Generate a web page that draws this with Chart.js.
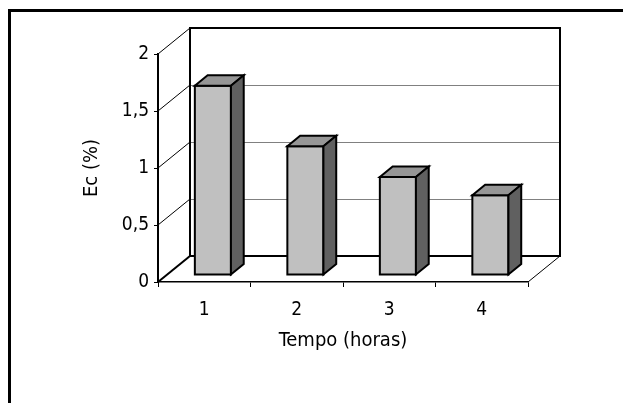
<!DOCTYPE html>
<html>
<head>
<title>Ec (%) x Tempo</title>
<script src="https://cdn.jsdelivr.net/npm/chart.js"></script>
<style>
    body {
        margin: 0;
        padding: 0;
        background: white;
        overflow: hidden;
    }
    /* moldura do grafico (so topo e esquerda aparecem no recorte) */
    .frame {
        position: absolute;
        left: 8px;
        top: 9px;
        width: 700px;
        height: 500px;
        border-top: 3px solid black;
        border-left: 3px solid black;
    }
    #chart {
        position: absolute;
        left: 0;
        top: 0;
    }
</style>
</head>
<body>
<div class="frame"></div>
<canvas id="chart" width="623" height="403"></canvas>
<script>
    const categories = ['1', '2', '3', '4'];
    const ecValues = [1.66, 1.13, 0.86, 0.70];
    const yTicks = [0, 0.5, 1, 1.5, 2];

    // profundidade 3D
    const DX = 32, DY = -26;
    const barFront = 0.27, barBack = 0.67;

    function line(ctx, x0, y0, x1, y1) {
        ctx.beginPath();
        ctx.moveTo(x0, y0);
        ctx.lineTo(x1, y1);
        ctx.stroke();
    }

    function poly(ctx, pts, fill) {
        ctx.beginPath();
        ctx.moveTo(pts[0][0], pts[0][1]);
        for (let i = 1; i < pts.length; i++) ctx.lineTo(pts[i][0], pts[i][1]);
        ctx.closePath();
        ctx.fillStyle = fill;
        ctx.fill();
        ctx.stroke();
    }

    const walls3d = {
        id: 'walls3d',
        beforeDatasetsDraw(chart) {
            const { ctx, chartArea: a, scales: { y } } = chart;
            ctx.save();
            // linhas de grade na parede do fundo
            ctx.strokeStyle = '#808080';
            ctx.lineWidth = 1;
            yTicks.forEach(v => {
                if (v === 0 || v === 2) return;
                const py = Math.round(y.getPixelForValue(v) + DY) + 0.5;
                line(ctx, a.left + DX, py, a.right + DX, py);
            });
            // diagonais na parede lateral
            ctx.strokeStyle = '#000';
            yTicks.forEach(v => {
                const py = y.getPixelForValue(v);
                line(ctx, a.left, py, a.left + DX, py + DY);
            });
            // parede do fundo
            ctx.lineWidth = 2;
            ctx.strokeRect(a.left + DX, a.top + DY, a.right - a.left, a.bottom - a.top);
            line(ctx, a.left, a.bottom, a.left + DX, a.bottom + DY);
            // borda direita do piso
            ctx.lineWidth = 1;
            line(ctx, a.right, a.bottom, a.right + DX, a.bottom + DY);
            ctx.restore();
        },
        afterDatasetsDraw(chart) {
            const { ctx } = chart;
            const meta = chart.getDatasetMeta(0);
            ctx.save();
            ctx.strokeStyle = '#000';
            ctx.lineWidth = 2;
            ctx.lineJoin = 'miter';
            const ox = DX * barFront, oy = DY * barFront;
            const bx = DX * (barBack - barFront), by = DY * (barBack - barFront);
            meta.data.forEach(bar => {
                const { x, y, base, width } = bar.getProps(['x', 'y', 'base', 'width'], true);
                const x0 = x - width / 2 + ox, x1 = x + width / 2 + ox;
                const y0 = y + oy, y1 = base + oy;
                poly(ctx, [[x0, y0], [x1, y0], [x1, y1], [x0, y1]], '#c0c0c0');
                poly(ctx, [[x0, y0], [x1, y0], [x1 + bx, y0 + by], [x0 + bx, y0 + by]], '#969696');
                poly(ctx, [[x1, y0], [x1 + bx, y0 + by], [x1 + bx, y1 + by], [x1, y1]], '#606060');
            });
            ctx.restore();
        }
    };

    Chart.defaults.font.family = "'DejaVu Sans Condensed', 'DejaVu Sans', sans-serif";
    Chart.defaults.font.size = 20;
    Chart.defaults.color = '#000';

    new Chart(document.getElementById('chart'), {
        type: 'bar',
        data: {
            labels: categories,
            datasets: [{
                label: 'Ec (%)',
                data: ecValues,
                backgroundColor: 'rgba(0,0,0,0)',
                borderWidth: 0,
                categoryPercentage: 1,
                barPercentage: 0.39
            }]
        },
        options: {
            responsive: false,
            animation: false,
            events: [],
            layout: {
                padding: { left: 0, right: 95, top: 54, bottom: 0 }
            },
            plugins: {
                legend: { display: false },
                tooltip: { enabled: false }
            },
            scales: {
                x: {
                    afterFit: s => { s.height = 121; },
                    grid: { drawOnChartArea: false, tickLength: 5, color: '#000', offset: true },
                    border: { color: '#000', width: 1.5 },
                    ticks: { padding: 12, font: { size: 19 } },
                    title: { display: true, text: 'Tempo (horas)', font: { size: 20 }, padding: { bottom: 50 } }
                },
                y: {
                    min: 0,
                    max: 2,
                    afterFit: s => { s.width = 158; },
                    afterBuildTicks: s => { s.ticks = yTicks.map(v => ({ value: v })); },
                    grid: { drawOnChartArea: false, tickLength: 4, color: '#000' },
                    border: { color: '#000', width: 2 },
                    ticks: {
                        padding: 5,
                        font: { size: 19 },
                        callback: v => String(v).replace('.', ',')
                    },
                    title: { display: true, text: 'Ec (%)', font: { size: 20 }, padding: { top: 80 } }
                }
            }
        },
        plugins: [walls3d]
    });
</script>
</body>
</html>
